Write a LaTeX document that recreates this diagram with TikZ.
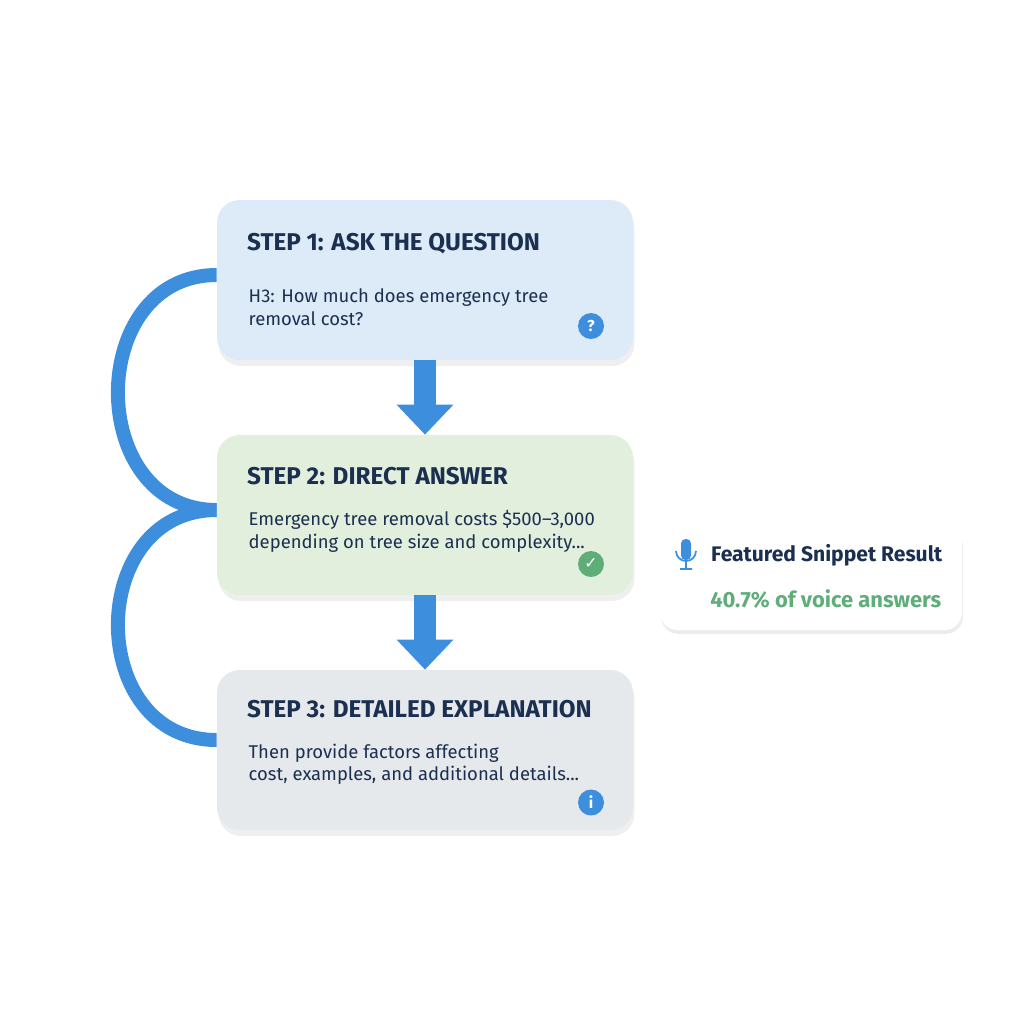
\documentclass[tikz,border=0pt]{standalone}
\usepackage{fontspec}
\setmainfont{Fira Sans}
\newfontfamily\symfont{DejaVu Sans}
\usetikzlibrary{arrows.meta,shadows,positioning}
\definecolor{navy}{HTML}{1B2F50}
\definecolor{flowblue}{HTML}{3D8FDE}
\definecolor{bluefill}{HTML}{DCEBF7}
\definecolor{greenfill}{HTML}{E3EFDD}
\definecolor{greyfill}{HTML}{E6E9EC}
\definecolor{okgreen}{HTML}{5FAE7A}
\tikzset{
  stepbox/.style={rounded corners=0.45cm, minimum width=8.32cm, minimum height=3.2cm,
    drop shadow={shadow xshift=0.03cm, shadow yshift=-0.12cm, opacity=0.1, fill=black!60}},
  steptitle/.style={font=\fontsize{13.8}{16}\selectfont\bfseries, text=navy, anchor=west},
  steptext/.style={font=\fontsize{10.5}{13}\selectfont, text=navy, anchor=north west, align=left},
  badge/.style={circle, fill=#1, text=white, inner sep=0pt, minimum size=0.52cm, font=\small\bfseries},
  downarrow/.style={line width=0.44cm, flowblue, -{Triangle[width=1.1cm,length=0.6cm]}},
  loopline/.style={line width=0.28cm, flowblue}
}
\begin{document}
\begin{tikzpicture}
\useasboundingbox (0,0) rectangle (20.48,-20.48);
% steps
\node[stepbox, fill=bluefill] (s1) at (8.5,-5.6) {};
\node[stepbox, fill=greenfill] (s2) at (8.5,-10.3) {};
\node[stepbox, fill=greyfill] (s3) at (8.5,-15.0) {};
\node[steptitle] (t1) at (4.82,-4.88) {STEP 1: ASK THE QUESTION};
\node[steptext] (d1) at (4.85,-5.65) {H3: How much does emergency tree\\removal cost?};
\node[badge=flowblue] (b1) at (11.82,-6.52) {?};
\node[steptitle] (t2) at (4.82,-9.52) {STEP 2: DIRECT ANSWER};
\node[steptext] (d2) at (4.85,-10.08) {Emergency tree removal costs \$500–3,000\\depending on tree size and complexity...};
\node[badge=okgreen] (b2) at (11.82,-11.28) {\symfont ✓};
\node[steptitle] (t3) at (4.82,-14.18) {STEP 3: DETAILED EXPLANATION};
\node[steptext] (d3) at (4.85,-14.75) {Then provide factors affecting\\cost, examples, and additional details...};
\node[badge=flowblue] (b3) at (11.82,-16.05) {i};
% arrows
\draw[downarrow] (s1.south) -- (s2.north);
\draw[downarrow] (s2.south) -- (s3.north);
% loops
\draw[loopline] ([yshift=0.1cm]s1.west) .. controls (1.7,-5.5) and (1.7,-10.2) .. ([yshift=0.1cm]s2.west);
\draw[loopline] ([yshift=0.1cm]s2.west) .. controls (1.7,-10.2) and (1.7,-14.8) .. ([yshift=0.2cm]s3.west);
% snippet
\node[rounded corners=0.35cm, fill=white, minimum width=6.04cm, minimum height=2.1cm,
  drop shadow={shadow xshift=0.02cm, shadow yshift=-0.08cm, opacity=0.12, fill=black!60}] (snip) at (16.22,-11.55) {};
\node[font=\fontsize{12}{14}\selectfont\bfseries, text=navy, anchor=west] (sn1) at (14.1,-11.1) {Featured Snippet Result};
\node[font=\fontsize{12.5}{14}\selectfont\bfseries, text=okgreen, anchor=east] (sn2) at (18.95,-11.98) {40.7\% of voice answers};
% mic
\fill[flowblue, rounded corners=0.09cm] (13.62,-10.78) rectangle (13.82,-11.2);
\draw[flowblue, line width=1pt] (13.52,-11.02) arc (180:360:0.2) (13.72,-11.22) -- (13.72,-11.38) (13.6,-11.38) -- (13.84,-11.38);
\end{tikzpicture}
\end{document}
